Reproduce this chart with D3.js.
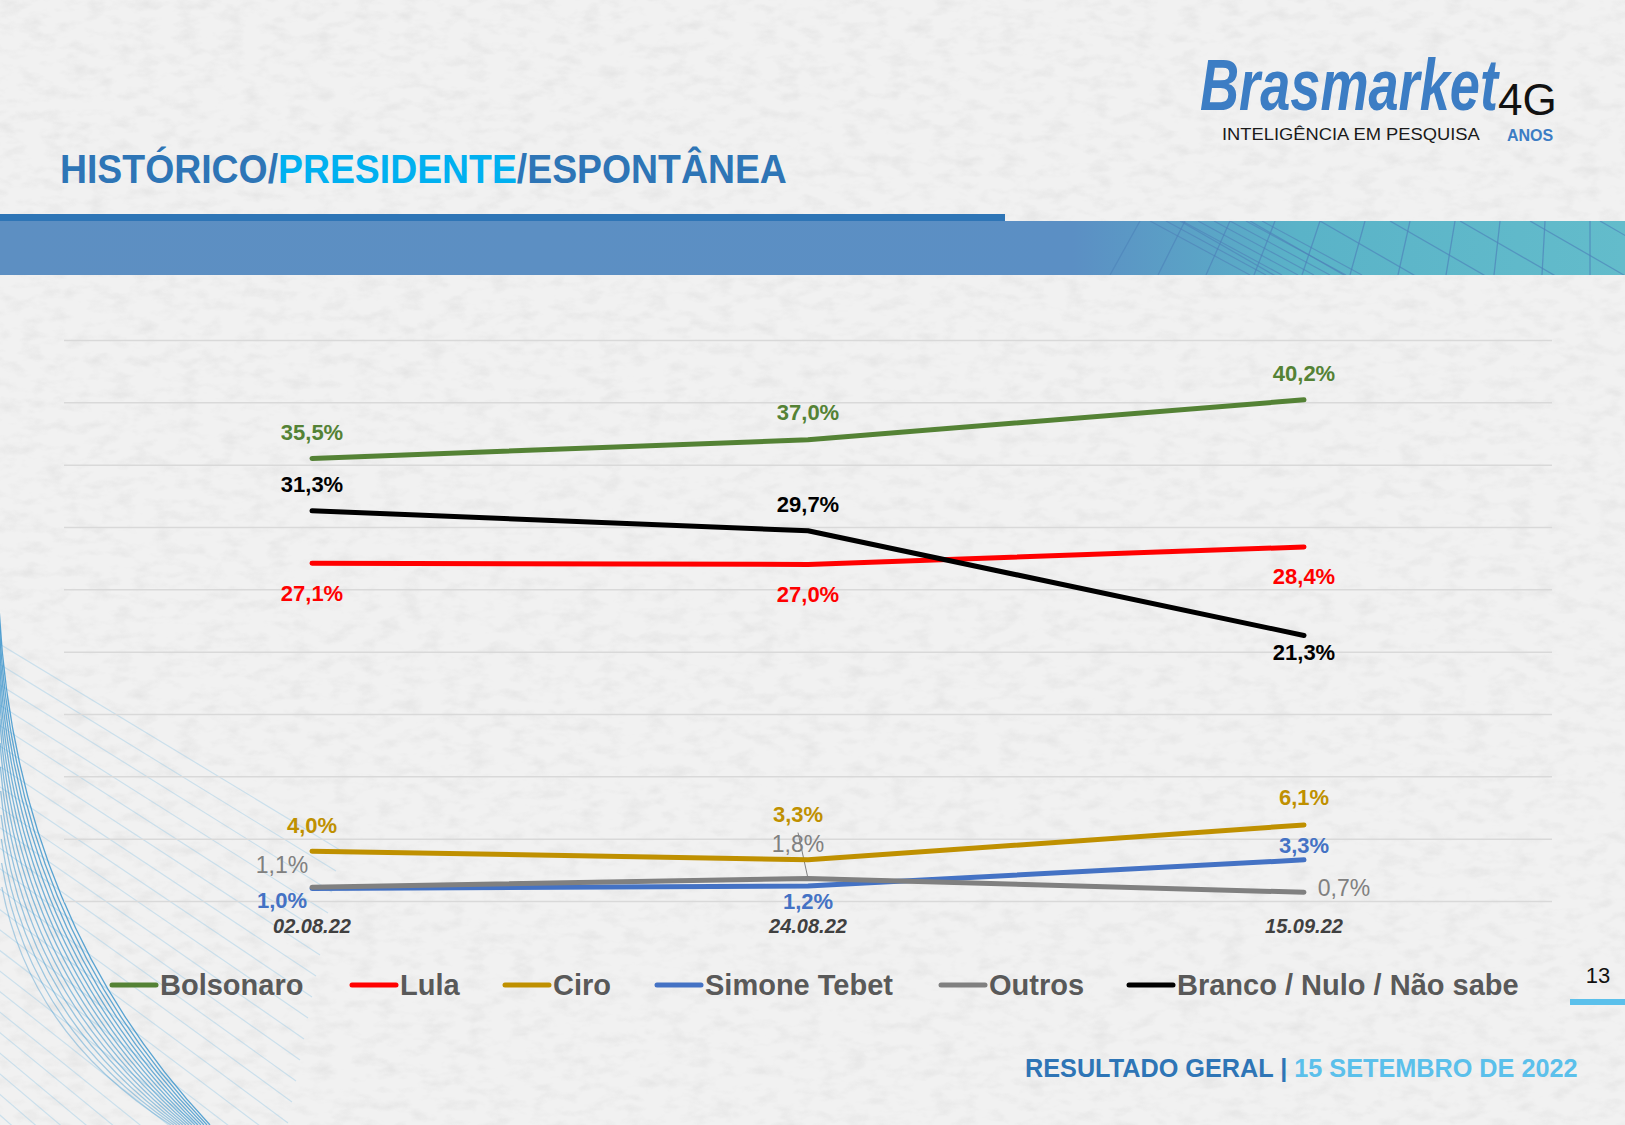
<!DOCTYPE html>
<html>
<head>
<meta charset="utf-8">
<script src="https://cdn.jsdelivr.net/npm/d3@7"></script>
<style>
  html, body { margin: 0; padding: 0; background: #f2f2f2; }
  svg { display: block; }
  text { font-family: "Liberation Sans", Arial, sans-serif; }
</style>
</head>
<body>
<svg id="slide" width="1625" height="1125"></svg>
<script>
// Survey data
const dates = ["02.08.22", "24.08.22", "15.09.22"];
const names = ["Bolsonaro", "Lula", "Ciro", "Simone Tebet", "Outros", "Branco / Nulo / Não sabe"];
const bolsonaro = [35.5, 37.0, 40.2];
const lula = [27.1, 27.0, 28.4];
const ciro = [4.0, 3.3, 6.1];
const tebet = [1.0, 1.2, 3.3];
const outros = [1.1, 1.8, 0.7];
const branco = [31.3, 29.7, 21.3];
const yMax = 45;

const seriesValues = [bolsonaro, lula, ciro, tebet, outros, branco];
const colors = ["#548235", "#ff0000", "#bf9000", "#4472c4", "#808080", "#000000"];

// label offsets (px) from each point, per series
const labelOffsets = [
  [[0, -26], [0, -27], [0, -26]],
  [[0, 30], [0, 30], [0, 30]],
  [[0, -26], [-10, -45], [0, -27]],
  [[-30, 12], [0, 15], [0, -14]],
  [[-30, -22], [-10, -35], [40, -4]],
  [[0, -26], [0, -26], [0, 17]]
];

const svg = d3.select("#slide");
const W = 1625, H = 1125;
const defs = svg.append("defs");

// paper texture
const f = defs.append("filter").attr("id", "paper")
  .attr("x", 0).attr("y", 0).attr("width", "100%").attr("height", "100%");
f.append("feTurbulence").attr("type", "fractalNoise")
  .attr("baseFrequency", "0.045 0.09").attr("numOctaves", 3).attr("seed", 4);
f.append("feColorMatrix").attr("type", "matrix")
  .attr("values", "0 0 0 0 0.5  0 0 0 0 0.5  0 0 0 0 0.5  0 0 0 -1.1 0.6");
svg.append("rect").attr("width", W).attr("height", H).attr("fill", "#f1f1f1");
svg.append("rect").attr("width", W).attr("height", H).attr("filter", "url(#paper)").attr("opacity", 0.4);

// bottom-left decorative curves
const deco = svg.append("g");
deco.selectAll("line.diag")
  .data(d3.range(30))
  .join("line")
  .attr("x1", -40)
  .attr("y1", d => 620 + d * 20)
  .attr("x2", d => 340 - d * 4)
  .attr("y2", d => 850 + d * 21)
  .attr("stroke", "#9ccbe6")
  .attr("stroke-width", 1.2)
  .attr("opacity", 0.45);
deco.selectAll("path.arc")
  .data(d3.range(14))
  .join("path")
  .attr("d", d => `M${-2 + d * 0.3},${575 + d * 24} Q${4 + d * 2},${905 + d * 10} ${210 - d * 3},${1125}`)
  .attr("fill", "none")
  .attr("stroke", "#3d95cc")
  .attr("stroke-width", 1.3)
  .attr("opacity", d => 0.85 - d * 0.035);

// header band
const grad = defs.append("linearGradient").attr("id", "band")
  .attr("x1", 0).attr("x2", 1).attr("y1", 0).attr("y2", 0);
grad.append("stop").attr("offset", "0%").attr("stop-color", "#5d8fc2");
grad.append("stop").attr("offset", "66%").attr("stop-color", "#5b8fc4");
grad.append("stop").attr("offset", "80%").attr("stop-color", "#5ab3c8");
grad.append("stop").attr("offset", "100%").attr("stop-color", "#63bccb");
defs.append("clipPath").attr("id", "bandClip")
  .append("rect").attr("x", 0).attr("y", 221).attr("width", W).attr("height", 54);

svg.append("rect").attr("x", 0).attr("y", 214).attr("width", 1005).attr("height", 8).attr("fill", "#2e75b6");
svg.append("rect").attr("x", 0).attr("y", 221).attr("width", W).attr("height", 54).attr("fill", "url(#band)");
const bandLines = svg.append("g").attr("clip-path", "url(#bandClip)");
bandLines.selectAll("line.a")
  .data(d3.range(12))
  .join("line")
  .attr("x1", d => 1140 + d * 45).attr("y1", 221)
  .attr("x2", d => 1110 + d * 48).attr("y2", 275)
  .attr("stroke", "#4f86bb").attr("stroke-width", 1.3).attr("opacity", 0.75);
bandLines.selectAll("line.b")
  .data(d3.range(8))
  .join("line")
  .attr("x1", d => 1180 + d * 70).attr("y1", 221)
  .attr("x2", d => 1300 + d * 70).attr("y2", 290)
  .attr("stroke", "#4f86bb").attr("stroke-width", 1.3).attr("opacity", 0.7);
bandLines.selectAll("line.c")
  .data(d3.range(8))
  .join("line")
  .attr("x1", d => 1150 + d * 16).attr("y1", 221)
  .attr("x2", d => 1250 + d * 16).attr("y2", 275)
  .attr("stroke", "#4f80b8").attr("stroke-width", 1.2).attr("opacity", 0.6);

// title
function squeeze(sel, x, y, targetW) {
  const w = sel.node().getComputedTextLength();
  sel.attr("transform", `translate(${x},${y}) scale(${targetW / w},1)`);
}
const title = svg.append("text").attr("font-size", 40).attr("font-weight", "bold");
title.append("tspan").attr("fill", "#2e75b6").text("HISTÓRICO/");
title.append("tspan").attr("fill", "#00b0f0").text("PRESIDENTE");
title.append("tspan").attr("fill", "#2e75b6").text("/ESPONTÂNEA");
squeeze(title, 60, 183, 727);

// logo
const logo = svg.append("g");
const brand = logo.append("text")
  .attr("font-family", "Lato, 'DejaVu Serif', serif")
  .attr("font-style", "italic").attr("font-weight", 900)
  .attr("font-size", 72).attr("fill", "#3c7dc4")
  .text("Brasmarket");
squeeze(brand, 1200, 110, 298);
logo.append("text").attr("x", 1498).attr("y", 115)
  .attr("font-family", "Lato, sans-serif").attr("font-weight", 300)
  .attr("font-size", 44).attr("fill", "#111").text("4G");
const tag = logo.append("text")
  .attr("font-family", "Lato, 'Open Sans', sans-serif").attr("font-size", 17).attr("fill", "#1a1a1a")
  .text("INTELIGÊNCIA EM PESQUISA");
squeeze(tag, 1222, 140, 258);
logo.append("text").attr("x", 1507).attr("y", 141)
  .attr("font-family", "Lato, sans-serif").attr("font-weight", "bold")
  .attr("font-size", 16).attr("fill", "#3c7dc4").text("ANOS");

// chart scales
const x = d3.scalePoint().domain(dates).range([64, 1552]).padding(0.5);
const y = d3.scaleLinear().domain([0, yMax]).range([901, 340]);

// gridlines
svg.append("g")
  .attr("transform", "translate(64,0)")
  .call(d3.axisLeft(y).ticks(9).tickSize(-1488).tickFormat(""))
  .call(g => g.select(".domain").remove())
  .call(g => g.selectAll(".tick line").attr("stroke", "#d9d9d9").attr("stroke-width", 1.5));

// x labels
svg.append("g")
  .selectAll("text")
  .data(dates)
  .join("text")
  .attr("x", d => x(d))
  .attr("y", 933)
  .attr("text-anchor", "middle")
  .attr("font-size", 20)
  .attr("font-weight", "bold")
  .attr("font-style", "italic")
  .attr("fill", "#404040")
  .text(d => d);

// leader line for Outros 24.08
svg.append("line")
  .attr("x1", x(dates[1])).attr("y1", y(outros[1]))
  .attr("x2", x(dates[1]) - 10).attr("y2", y(outros[1]) - 46)
  .attr("stroke", "#808080").attr("stroke-width", 1);

// lines
const line = d3.line().x((d, i) => x(dates[i])).y(d => y(d));
svg.append("g")
  .selectAll("path")
  .data(seriesValues)
  .join("path")
  .attr("d", d => line(d))
  .attr("fill", "none")
  .attr("stroke", (d, i) => colors[i])
  .attr("stroke-width", 5)
  .attr("stroke-linecap", "round")
  .attr("stroke-linejoin", "round");

// data labels
const fmt = v => d3.format(".1f")(v).replace(".", ",") + "%";
seriesValues.forEach((vals, s) => {
  svg.append("g")
    .selectAll("text")
    .data(vals)
    .join("text")
    .attr("x", (d, i) => x(dates[i]) + labelOffsets[s][i][0])
    .attr("y", (d, i) => y(d) + labelOffsets[s][i][1])
    .attr("text-anchor", "middle")
    .attr("dominant-baseline", "central")
    .attr("font-size", s === 4 ? 23 : 22)
    .attr("font-weight", s === 4 ? "normal" : "bold")
    .attr("fill", colors[s])
    .text(d => fmt(d));
});

// legend
const legendX = [112, 352, 505, 657, 941, 1129];
const legend = svg.append("g")
  .selectAll("g")
  .data(names)
  .join("g")
  .attr("transform", (d, i) => `translate(${legendX[i]},985)`);
legend.append("line")
  .attr("x1", 0).attr("x2", 44)
  .attr("stroke", (d, i) => colors[i])
  .attr("stroke-width", 5)
  .attr("stroke-linecap", "round");
legend.append("text")
  .attr("x", 48)
  .attr("y", 0)
  .attr("dominant-baseline", "central")
  .attr("font-size", 29)
  .attr("font-weight", "bold")
  .attr("fill", "#595959")
  .text(d => d);

// page number
svg.append("text").attr("x", 1598).attr("y", 983).attr("text-anchor", "middle")
  .attr("font-size", 22).attr("fill", "#111").text("13");
svg.append("rect").attr("x", 1570).attr("y", 999).attr("width", 55).attr("height", 6).attr("fill", "#5bc0eb");

// footer
const foot = svg.append("text").attr("font-size", 25).attr("font-weight", "bold");
foot.append("tspan").attr("fill", "#2e75b6").text("RESULTADO GERAL | ");
foot.append("tspan").attr("fill", "#5bc0eb").text("15  SETEMBRO DE 2022");
squeeze(foot, 1025, 1077, 553);
</script>
</body>
</html>
